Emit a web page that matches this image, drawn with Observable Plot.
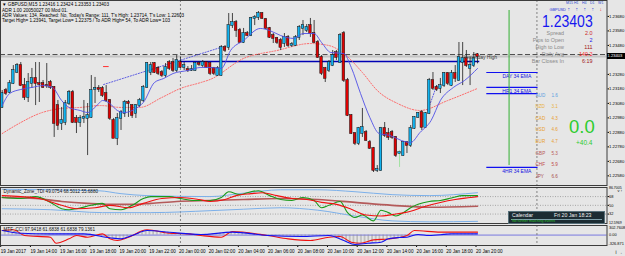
<!DOCTYPE html>
<html><head><meta charset="utf-8">
<script src="https://cdn.jsdelivr.net/npm/d3@7"></script>
<script src="https://cdn.jsdelivr.net/npm/@observablehq/plot@0.6"></script>
<style>
html,body{margin:0;padding:0;background:#e6e6e6;}
#wrap{position:relative;width:625px;height:256px;overflow:hidden;background:#e6e6e6;font-family:"Liberation Sans",Arial,sans-serif;}
#wrap svg{position:absolute;left:0;overflow:visible;}
.t{position:absolute;white-space:nowrap;line-height:1;}
</style></head><body>
<svg width="0" height="0" style="position:absolute"><defs>
<pattern id="hatch" patternUnits="userSpaceOnUse" width="3.71" height="8"><line x1="1" y1="0" x2="1" y2="8" stroke="#8c8c8c" stroke-width="0.8"/></pattern>
</defs></svg>
<div id="wrap"></div>
<script>
// ---------------- DATA ----------------
const symbolHeader = "\u25BC GBPUSD,M15  1.23416 1.23424 1.23353 1.23403";
const adrLines = [
  "ADR 1.00 20050027 00 Mod 01.",
  "ADR Values: 134, Reached: No, Today's Range: 111, T's High: 1.23714, T's Low: 1.22603",
  "Target High= 1.23941, Target Low= 1.22375 / To ADR High= 54, To ADR Low= 103"
];
// M15 candles, index 0 = 19 Jan 12:00
const opens = [1.23052,1.23169,1.23155,1.23217,1.23293,1.23341,1.23203,1.23121,1.23217,1.23252,1.23217,1.23217,1.23203,1.23224,1.23190,1.23065,1.22941,1.22948,1.23079,1.23155,1.22976,1.22948,1.22976,1.22976,1.22983,1.23176,1.23183,1.23183,1.23148,1.23100,1.22962,1.22838,1.22976,1.23010,1.23086,1.23065,1.23010,1.23065,1.23100,1.23190,1.23293,1.23355,1.23321,1.23293,1.23272,1.23362,1.23362,1.23307,1.23362,1.23328,1.23314,1.23307,1.23307,1.23355,1.23341,1.23362,1.23355,1.23321,1.23272,1.23272,1.23466,1.23466,1.23617,1.23638,1.23583,1.23500,1.23562,1.23548,1.23666,1.23673,1.23700,1.23659,1.23597,1.23548,1.23528,1.23514,1.23493,1.23535,1.23479,1.23479,1.23535,1.23597,1.23583,1.23617,1.23562,1.23500,1.23397,1.23321,1.23307,1.23341,1.23431,1.23362,1.23562,1.23238,1.22996,1.22872,1.22803,1.22872,1.22879,1.22810,1.22769,1.22617,1.22617,1.22907,1.22872,1.22879,1.22845,1.22734,1.22720,1.22810,1.22789,1.22907,1.22983,1.23017,1.22914,1.23010,1.23238,1.23190,1.23183,1.23203,1.23286,1.23203,1.23286,1.23238,1.23362,1.23390,1.23321,1.23341,1.23416];
const highs = [1.23169,1.23183,1.23238,1.23341,1.23355,1.23362,1.23252,1.23286,1.23321,1.23362,1.23362,1.23238,1.23355,1.23238,1.23196,1.23100,1.23052,1.23100,1.23169,1.23169,1.22996,1.22996,1.23100,1.23079,1.23272,1.23259,1.23203,1.23196,1.23203,1.23107,1.22976,1.23010,1.23031,1.23100,1.23100,1.23072,1.23072,1.23114,1.23203,1.23362,1.23362,1.23362,1.23334,1.23307,1.23355,1.23376,1.23390,1.23410,1.23397,1.23362,1.23334,1.23341,1.23362,1.23369,1.23376,1.23369,1.23362,1.23328,1.23334,1.23479,1.23479,1.23700,1.23700,1.23652,1.23597,1.23597,1.23576,1.23673,1.23686,1.23714,1.23707,1.23666,1.23604,1.23562,1.23535,1.23528,1.23562,1.23548,1.23500,1.23548,1.23617,1.23652,1.23624,1.23666,1.23652,1.23514,1.23410,1.23328,1.23376,1.23445,1.23445,1.23562,1.23576,1.23252,1.23003,1.22879,1.22914,1.23045,1.22893,1.22824,1.22776,1.22651,1.22914,1.22948,1.22907,1.22893,1.22851,1.22755,1.22817,1.22817,1.22927,1.22989,1.23017,1.23031,1.23017,1.23252,1.23293,1.23203,1.23252,1.23293,1.23293,1.23307,1.23341,1.23500,1.23500,1.23445,1.23397,1.23431,1.23424];
const lows = [1.23045,1.23134,1.23148,1.23210,1.23286,1.23196,1.23100,1.23086,1.23183,1.23065,1.23086,1.23183,1.23183,1.23176,1.22845,1.22893,1.22893,1.22927,1.23065,1.22941,1.22872,1.22914,1.22941,1.22720,1.22976,1.23079,1.23155,1.23121,1.23086,1.22962,1.22838,1.22789,1.22893,1.22983,1.22983,1.22976,1.22976,1.23052,1.23086,1.23183,1.23272,1.23286,1.23272,1.23259,1.23259,1.23307,1.23293,1.23293,1.23321,1.23307,1.23293,1.23300,1.23300,1.23334,1.23328,1.23321,1.23272,1.23272,1.23266,1.23266,1.23431,1.23445,1.23597,1.23535,1.23493,1.23493,1.23541,1.23541,1.23617,1.23652,1.23659,1.23590,1.23528,1.23493,1.23486,1.23445,1.23466,1.23466,1.23466,1.23472,1.23514,1.23548,1.23569,1.23535,1.23493,1.23390,1.23272,1.23224,1.23293,1.23334,1.23376,1.23355,1.23224,1.22989,1.22865,1.22789,1.22789,1.22845,1.22817,1.22762,1.22603,1.22603,1.22610,1.22845,1.22824,1.22831,1.22707,1.22638,1.22714,1.22734,1.22776,1.22900,1.22976,1.22893,1.22907,1.23003,1.23169,1.23162,1.23148,1.23190,1.23203,1.23196,1.23224,1.23231,1.23203,1.23328,1.23203,1.23328,1.23353];
const closes = [1.23148,1.23148,1.23217,1.23307,1.23341,1.23203,1.23121,1.23224,1.23252,1.23217,1.23210,1.23190,1.23200,1.23190,1.22941,1.22927,1.22962,1.23079,1.23155,1.22948,1.22948,1.22976,1.22983,1.22996,1.23169,1.23183,1.23176,1.23134,1.23100,1.22976,1.22838,1.22976,1.23017,1.23086,1.23079,1.22996,1.23065,1.23100,1.23190,1.23355,1.23341,1.23293,1.23286,1.23272,1.23328,1.23321,1.23307,1.23376,1.23328,1.23341,1.23307,1.23314,1.23355,1.23348,1.23362,1.23328,1.23286,1.23286,1.23321,1.23466,1.23445,1.23617,1.23638,1.23583,1.23500,1.23562,1.23548,1.23666,1.23673,1.23700,1.23666,1.23597,1.23535,1.23528,1.23500,1.23466,1.23535,1.23479,1.23486,1.23535,1.23604,1.23617,1.23604,1.23562,1.23500,1.23397,1.23286,1.23252,1.23362,1.23410,1.23397,1.23548,1.23238,1.22996,1.22872,1.22803,1.22907,1.22914,1.22824,1.22769,1.22617,1.22624,1.22907,1.22858,1.22845,1.22845,1.22720,1.22741,1.22810,1.22789,1.22907,1.22983,1.23010,1.22914,1.23010,1.23238,1.23183,1.23176,1.23203,1.23286,1.23217,1.23286,1.23252,1.23397,1.23390,1.23341,1.23341,1.23390,1.23403];
const pinBarIndex = 107;
// moving averages (sampled)
const fastMAIdx = [0,2,5,8,11,13.5,16,18,21,23,26,27,29,31,33,36,38,41,43.5,46,50,53.5,56,59,61.5,65,69.5,72,75,78.5,81,84,86,88.5,92,94,96.5,99,101.5,104.5,107.5,110,112.5,115.5,118,121.5,124.5,128];
const fastMAVal = [1.23065,1.23148,1.23176,1.23190,1.23203,1.23190,1.23100,1.23052,1.23031,1.23017,1.23079,1.23100,1.23079,1.23031,1.23017,1.23045,1.23086,1.23224,1.23252,1.23286,1.23307,1.23328,1.23328,1.23321,1.23445,1.23514,1.23597,1.23583,1.23548,1.23528,1.23562,1.23562,1.23500,1.23431,1.23424,1.23328,1.23148,1.22983,1.22872,1.22858,1.22824,1.22810,1.22879,1.22962,1.23100,1.23190,1.23238,1.23321];
const slowMAIdx = [0,5,10,16,21,26.5,32,37,43,48,53.5,56,65,74,83,88,92,97,101,106.5,112.5,120,128];
const slowMAVal = [1.22872,1.22948,1.23010,1.23045,1.23052,1.23065,1.23052,1.23052,1.23121,1.23183,1.23224,1.23245,1.23390,1.23445,1.23493,1.23479,1.23424,1.23293,1.23169,1.23079,1.23031,1.23100,1.23183];
// levels
const bidPrice = 1.23403;
const yesterdayHigh = 1.23417;
const dayOpen = 1.23369;
const daySeparators = [48, 144];
const emaNames = ["DAY 34 EMA", "HR1 34 EMA", "", "4HR 34 EMA"];
const emaPrices = [1.23293, 1.23190, 1.23148, 1.22638];
const priceTicks = [1.2368,1.2358,1.2348,1.2328,1.2318,1.2308,1.2298,1.2288,1.2278,1.2268,1.2258];
// time axis
const timeTickIdx = [0,8,16,24,32,40,48,56,64,72,80,88,96,104,112,120,128];
const timeLabels = ["19 Jan 2017","19 Jan 14:00","19 Jan 16:00","19 Jan 18:00","19 Jan 20:00","19 Jan 22:00","20 Jan 00:00","20 Jan 02:00","20 Jan 04:00","20 Jan 06:00","20 Jan 08:00","20 Jan 10:00","20 Jan 12:00","20 Jan 14:00","20 Jan 16:00","20 Jan 18:00","20 Jan 20:00"];
// info panel
const tfNames = ["M15","H1","H4","D1","W1"];
const tfDir = [1,1,1,1,-1];
const infoLabels = ["Spread","Pips to Open","High to Low","Daily Avg","Bar Closes In"];
const infoValues = ["2.0","2","111","140.2","6:19"];
const infoColors = ["#cc2a2a","#1a1aee","#a01515","#ff1a1a","#a01515"];
const ccyNames = ["AUD","NZD","CAD","USD","EUR","GBP","CHF","JPY"];
const ccyValues = ["1.6","3.1","4.3","4.6","4.7","5.3","5.9","6.6"];
const ccyColors = ["#5aa0e0","#e8b040","#e8a030","#e8a030","#e8a030","#b85a5a","#c04848","#a85050"];
// TDI panel
const tdiHeader = "Dynamic_Zone_TDI 49.0754 68.5012 55.6880";
const tdiRange = [12.5969, 86.7005];
const tdiLevels = [68, 50, 32];
const tdiGreenIdx = [0,5,9,13,16,18,20,24,27,29,32,35,38,40,45,48,52,56,59,61,64,67,69,72,75,78,81,84,86,88,91,93,95,97,100,102,104,106,108,110,112,115,118,121,124,128];
const tdiGreenVal = [66,64,68,56,43,41,43,50,54,43,41,50,64,68,68,64,60,60,66,78,72,78,80,70,62,60,66,60,45,50,58,35,25,30,18,40,35,28,35,45,52,58,60,65,70,70];
const tdiRedIdx = [0,5,10,16,20,25,29,34,38,43,48,53,56,60,63,67,70,74,78,82,86,90,94,98,102,106,110,114,118,122,126,128];
const tdiRedVal = [70,68,64,50,43,45,50,45,54,64,66,62,58,62,70,74,76,70,64,62,56,52,42,30,28,32,38,48,56,62,66,68];
const tdiBaseIdx = [0,9,16,23,29,35,40,47,56,65,75,85,95,105,115,128];
const tdiBaseVal = [66,64,58,54,52,52,54,58,60,62,64,62,56,50,46,48];
const tdiUpIdx = [0,26,32,39,56,65,75,85,95,105,115,128];
const tdiUpVal = [83,80,74,70,68,75,82,82,78,72,70,76];
const tdiLowIdx = [0,13,27,40,56,65,75,85,95,105,115,128];
const tdiLowVal = [43,41,35,35,39,42,45,40,28,18,16,17];
// CCI panel
const cciHeader = "MTF_CCI 97.9418 61.6838 61.6838 79.1361";
const cciRange = [-326.871, 302.7608];
const cciBlueIdx = [0,5,13,22,29,32,35,39,45,53.5,62,71.5,80.5,88,92,95,98.5,102,104,107,109,112,115,121,128];
const cciBlueVal = [145,60,40,40,-85,-117,-12,145,90,19,93,-12,-44,-12,-170,-296,-255,-223,-117,-75,-65,20,-12,40,40];
const cciRedIdx = [0,3,6,13,14.5,18,20,23,27,29,31,34,39,45,50,53.5,59,62,71.5,77,83,88,91,94,96.5,100,104,109,111,118,128];
const cciRedVal = [145,167,-12,-65,-255,-117,-12,-65,40,-117,-170,-65,167,60,40,-12,-65,114,-12,-117,-170,-65,-44,-223,-255,-150,-120,-12,145,93,93];

// ---------------- BUILD ----------------
const FONT = "'Liberation Sans', Arial, sans-serif";
const W = 625;
const AX = 4.2; // axis font size
const X = {domain: [-0.458, 162.87], axis: null};
const candles = opens.map((o, i) => ({i, open: o, high: highs[i], low: lows[i], close: closes[i]}));
const series = (idx, val) => idx.map((i, k) => ({i, v: val[k]}));
const fastMA = series(fastMAIdx, fastMAVal);
const slowMA = series(slowMAIdx, slowMAVal);
const baseStyle = {background: "transparent", fontFamily: FONT, fontSize: AX + "px", color: "#000"};
const trend1 = [{i: 27.3, v: 1.23210}, {i: 59.6, v: 1.23472}];
const trend2 = [{i: 114.6, v: 1.23031}, {i: 117.0, v: 1.23203}];
const emaData = emaNames.map((n, k) => ({name: n, v: emaPrices[k]}));

const wrap = document.getElementById("wrap");

const main = Plot.plot({
  width: W, height: 186, marginLeft: 0, marginRight: 18.5, marginTop: 0, marginBottom: 1,
  x: X,
  y: {domain: [1.225134, 1.237899], axis: null},
  style: baseStyle,
  marks: [
    Plot.ruleY([bidPrice], {stroke: "#c4c4c4", strokeWidth: 2}),
    Plot.ruleY([yesterdayHigh], {stroke: "#3a3a3a", strokeWidth: 0.9, strokeDasharray: "5,2.5"}),
    Plot.ruleX(daySeparators, {stroke: "#6a6a6a", strokeWidth: 0.8, strokeDasharray: "2,2"}),
    Plot.ruleY([dayOpen], {x1: 48, x2: 128.6, stroke: "#0000b4", strokeWidth: 1.3}),
    Plot.line(slowMA, {x: "i", y: "v", stroke: "#ff5a5a", strokeWidth: 0.9, strokeDasharray: "1.2,1.6", curve: "monotone-x"}),
    Plot.line(trend1, {x: "i", y: "v", stroke: "#3b3be0", strokeWidth: 0.8, strokeDasharray: "1.2,1.6"}),
    Plot.line(trend2, {x: "i", y: "v", stroke: "#3b3be0", strokeWidth: 0.8, strokeDasharray: "1.2,1.6"}),
    Plot.ruleY([1.23334], {x1: 27.3, x2: 28.8, stroke: "#ff3030", strokeWidth: 1}),
    Plot.ruleX(candles, {x: "i", y1: "low", y2: "high", stroke: d => d.i === pinBarIndex ? "#90e090" : "#1a1a1a", strokeWidth: 0.8}),
    Plot.rect(candles, {x1: d => d.i - 0.34, x2: d => d.i + 0.34, y1: "open", y2: "close",
      fill: d => d.close >= d.open ? "#12b2ee" : "#e00000", stroke: "#111", strokeWidth: 0.5, insetTop: -0.4, insetBottom: -0.4}),
    Plot.line(fastMA, {x: "i", y: "v", stroke: "#5050e6", strokeWidth: 0.9, curve: "monotone-x"}),
    Plot.ruleY(emaData, {y: "v", x1: 130.5, x2: 144.3, stroke: "#1010f0", strokeWidth: 1.2}),
    Plot.text(emaData, {x: 138.6, y: "v", text: "name", fill: "#1515e0", fontSize: 5, dy: 3.5, textAnchor: "middle"}),
    Plot.ruleX([136.5], {y1: 1.23721, y2: 1.22651, stroke: "#33b033", strokeWidth: 1}),
    Plot.text(["Yesterday High"], {x: 124.2, y: yesterdayHigh, dy: 3, textAnchor: "start", fill: "#3a3a3a", fontSize: 5}),
    Plot.axisY({anchor: "right", ticks: priceTicks, tickFormat: d => d.toFixed(5), tickSize: 1.5, tickPadding: 0.6, fontSize: AX}),
    Plot.frame({stroke: "#3c3c3c", strokeWidth: 1})
  ]
});
main.style.top = "0px";
wrap.appendChild(main);

const tdi = Plot.plot({
  width: W, height: 38, marginLeft: 0, marginRight: 18.5, marginTop: 1, marginBottom: 1,
  x: X,
  y: {domain: tdiRange, axis: null},
  style: baseStyle,
  marks: [
    Plot.ruleY(tdiLevels, {stroke: "#8a8a8a", strokeWidth: 0.7, strokeDasharray: "1,1.5"}),
    Plot.ruleX(daySeparators, {stroke: "#6a6a6a", strokeWidth: 0.8, strokeDasharray: "2,2"}),
    Plot.line(series(tdiUpIdx, tdiUpVal), {x: "i", y: "v", stroke: "#7cb0ea", strokeWidth: 1, curve: "monotone-x"}),
    Plot.line(series(tdiLowIdx, tdiLowVal), {x: "i", y: "v", stroke: "#7cb0ea", strokeWidth: 1, curve: "monotone-x"}),
    Plot.line(series(tdiBaseIdx, tdiBaseVal), {x: "i", y: "v", stroke: "#b45a5a", strokeWidth: 1.6, curve: "monotone-x"}),
    Plot.line(series(tdiGreenIdx, tdiGreenVal), {x: "i", y: "v", stroke: "#1a9a1a", strokeWidth: 1.1, curve: "monotone-x"}),
    Plot.line(series(tdiRedIdx, tdiRedVal), {x: "i", y: "v", stroke: "#f01010", strokeWidth: 1.1, curve: "monotone-x"}),
    Plot.text([tdiHeader], {frameAnchor: "top-left", dx: 3, dy: 2, lineAnchor: "top", textAnchor: "start", fontSize: 4.6, fill: "#111"}),
    Plot.axisY({anchor: "right", ticks: tdiLevels, tickFormat: d => String(d), tickSize: 1.5, tickPadding: 0.6, fontSize: 3.9}),
    Plot.text([tdiRange[1].toFixed(4)], {frameAnchor: "top-right", dx: 2, dy: -0.9, lineAnchor: "top", textAnchor: "start", fontSize: 3.5}),
    Plot.text([tdiRange[0].toFixed(4)], {frameAnchor: "bottom-right", dx: 2, dy: 0, lineAnchor: "bottom", textAnchor: "start", fontSize: 3.5}),
    Plot.frame({stroke: "#3c3c3c", strokeWidth: 1})
  ]
});
tdi.style.top = "186px";
wrap.appendChild(tdi);

const cciBlue = series(cciBlueIdx, cciBlueVal);
const cci = Plot.plot({
  width: W, height: 32, marginLeft: 0, marginRight: 18.5, marginTop: 1, marginBottom: 11,
  x: X,
  y: {domain: cciRange, axis: null},
  style: baseStyle,
  marks: [
    Plot.ruleY([0], {stroke: "#a7a7e2", strokeWidth: 1.6}),
    Plot.ruleX(daySeparators, {stroke: "#6a6a6a", strokeWidth: 0.8, strokeDasharray: "2,2"}),
    Plot.areaY(cciBlue, {x: "i", y1: 0, y2: "v", fill: "url(#hatch)", curve: "monotone-x"}),
    Plot.line(series(cciRedIdx, cciRedVal), {x: "i", y: "v", stroke: "#f01010", strokeWidth: 1.1, curve: "monotone-x"}),
    Plot.line(cciBlue, {x: "i", y: "v", stroke: "#1010f0", strokeWidth: 1.1, curve: "monotone-x"}),
    Plot.text([cciHeader], {frameAnchor: "top-left", dx: 3, dy: 2, lineAnchor: "top", textAnchor: "start", fontSize: 4.6, fill: "#111"}),
    Plot.text([cciRange[1].toFixed(4)], {frameAnchor: "top-right", dx: 2, dy: 0.3, lineAnchor: "top", textAnchor: "start", fontSize: 3.9}),
    Plot.text(["0.00"], {frameAnchor: "right", y: 0, dx: 2, textAnchor: "start", fontSize: 3.9}),
    Plot.text([cciRange[0].toFixed(3)], {frameAnchor: "bottom-right", dx: 1.5, dy: -0.3, lineAnchor: "bottom", textAnchor: "start", fontSize: 3.9}),
    Plot.axisX({anchor: "bottom", ticks: timeTickIdx, tickFormat: d => timeLabels[timeTickIdx.indexOf(d)], textAnchor: "start", tickSize: 2, tickPadding: 2, dx: -1.5, fontSize: 4.6}),
    Plot.frame({stroke: "#3c3c3c", strokeWidth: 1})
  ]
});
cci.style.top = "224px";
wrap.appendChild(cci);

// ---------------- OVERLAY TEXT ----------------
function addText(txt, left, top, size, color, extra, parent) {
  const d = document.createElement("div");
  d.className = "t";
  d.textContent = txt;
  d.style.left = left + "px"; d.style.top = top + "px";
  d.style.fontSize = size + "px"; d.style.color = color;
  if (extra) Object.assign(d.style, extra);
  (parent || wrap).appendChild(d);
  return d;
}
addText(symbolHeader, 2, 2.5, 4.6, "#000");
adrLines.forEach((s, k) => addText(s, 2, 8.5 + k * 5, 4.6, "#000"));

// current price label on axis
const yBid = main.scale("y").apply(bidPrice);
addText(bidPrice.toFixed(5), 606.5, yBid - 2.6, 4.1, "#fff", {background: "#000", padding: "0.5px 1px", width: "16.5px"});

// timeframe arrows
tfNames.forEach((n, k) => {
  addText(n, 566 + k * 8, 2.2, 3.6, "#2a4ad0");
  addText(tfDir[k] > 0 ? "\u2191" : "\u2193", 567.5 + k * 8, 6.5, 5.0, tfDir[k] > 0 ? "#1a3ad8" : "#ee1010", {fontWeight: "bold"});
});
addText("GBPUSD", 549.5, 7.5, 3.9, "#1a2ad8");
addText(bidPrice.toFixed(5), 541.5, 12.6, 16.5, "#1616f0", {transform: "scaleX(0.85)", transformOrigin: "0 0"});
infoLabels.forEach((s, k) => {
  const top = 30.6 + k * 7.0;
  addText(s, 0, top, 5.4, "#8a8a8a", {right: (625 - 564) + "px", left: "auto", textAlign: "right"});
  addText(infoValues[k], 0, top, 5.4, infoColors[k], {right: (625 - 592.5) + "px", left: "auto", textAlign: "right"});
});
ccyNames.forEach((c, k) => {
  const top = 93.5 + k * 11.6;
  addText(c, 535.5, top, 4.6, ccyColors[k]);
  addText(ccyValues[k], 551.5, top, 4.6, ccyColors[k]);
});
addText("0.0", 569, 118, 18.5, "#2ecc2e");
addText("+40.4", 576, 140, 6.5, "#2ecc2e");

// calendar box
const cal = document.createElement("div");
Object.assign(cal.style, {position: "absolute", left: "508px", top: "210.5px", width: "97px", height: "13px", background: "#1c2c33", border: "0.8px solid #57707a", overflow: "hidden", boxSizing: "border-box"});
wrap.appendChild(cal);
addText("Calendar", 3, 1.6, 5.2, "#f0f0f0", null, cal);
addText("Fri 20 Jan 18:23", 45, 1.6, 5.2, "#f0f0f0", null, cal);
const sep = document.createElement("div");
Object.assign(sep.style, {position: "absolute", left: "2px", right: "2px", top: "7.6px", height: "0.7px", background: "#7fa0aa"});
cal.appendChild(sep);
addText("No further matching events", 3, 8.6, 3.6, "#2ec02e", null, cal);
</script></body></html>
